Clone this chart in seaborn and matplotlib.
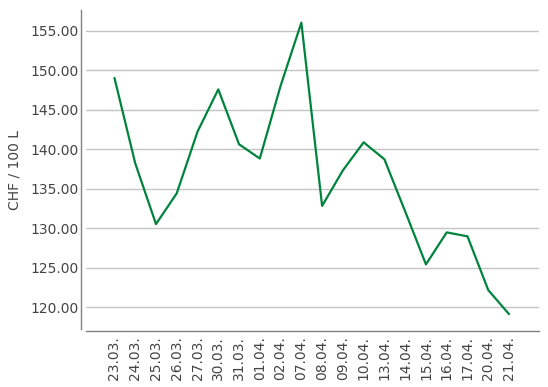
import matplotlib
matplotlib.use("Agg")
import matplotlib.pyplot as plt
import seaborn as sns
import pandas as pd

dates = ["23.03.", "24.03.", "25.03.", "26.03.", "27.03.", "30.03.", "31.03.",
         "01.04.", "02.04.", "07.04.", "08.04.", "09.04.", "10.04.", "13.04.",
         "14.04.", "15.04.", "16.04.", "17.04.", "20.04.", "21.04."]
prices = [149.0, 138.2, 130.5, 134.4, 142.2, 147.55, 140.6,
          138.8, 148.0, 156.0, 132.8, 137.3, 140.85, 138.7,
          132.1, 125.4, 129.45, 128.95, 122.15, 119.1]
y_ticks = [120, 125, 130, 135, 140, 145, 150, 155]
y_label = "CHF / 100 L"

df = pd.DataFrame({"date": dates, "price": prices})

sns.set_theme(style="white")
plt.rcParams["font.family"] = ["DejaVu Sans"]

fig = plt.figure(figsize=(5.48, 3.87), dpi=100)
ax = fig.add_axes([86 / 548, 1 - 329 / 387, (538.5 - 86) / 548, (329 - 10) / 387])

sns.lineplot(data=df, x="date", y="price", sort=False, ax=ax,
             color="#00843d", linewidth=1.6, zorder=3)

ax.set_xlim(-1.37, 20.42)
ax.set_ylim(117.22, 157.6)
ax.set_yticks(y_ticks)
ax.set_yticklabels([f"{v:.2f}" for v in y_ticks])
ax.yaxis.grid(True, color="#c4c4c4", linewidth=1.0)
ax.xaxis.grid(False)

for side in ["top", "right"]:
    ax.spines[side].set_visible(False)
ax.spines["left"].set_position(("outward", 3.4))
ax.spines["bottom"].set_position(("outward", 1.1))
for side in ["left", "bottom"]:
    ax.spines[side].set_color("#808080")
    ax.spines[side].set_linewidth(1.0)

ax.tick_params(axis="both", length=0, labelsize=10, colors="#444444")
ax.tick_params(axis="y", pad=2)
ax.tick_params(axis="x", pad=4, rotation=90)
ax.set_xlabel("")
ax.set_ylabel(y_label, fontsize=10, color="#444444", labelpad=6)

fig.savefig("out.png", dpi=100)
